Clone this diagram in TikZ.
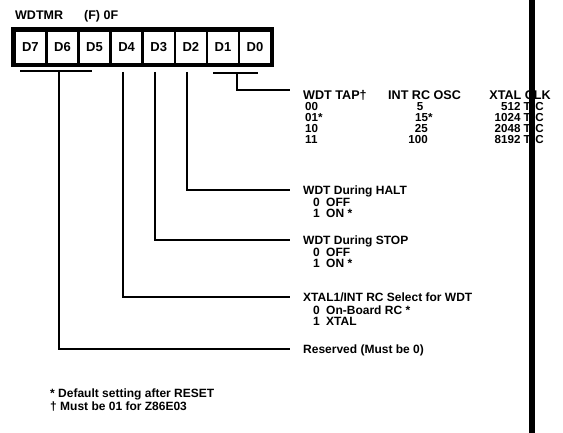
\documentclass[tikz,border=0pt]{standalone}
\usepackage{fontspec}
\setmainfont{Liberation Sans}
\newcommand{\tpc}{T{\fontsize{7.5}{8}\selectfont p}C}
\begin{document}
\begin{tikzpicture}[x=1pt,y=-1pt,
  lbl/.style={font=\fontsize{12}{14}\selectfont\bfseries, inner sep=0pt, anchor=base west},
  tbl/.style={font=\fontsize{12.6}{14}\selectfont\bfseries, inner sep=0pt},
  row/.style={font=\fontsize{11.6}{12}\selectfont\bfseries, inner sep=0pt},
  conn/.style={line width=1.8pt},
  cell/.style={draw, line width=2.6pt, minimum width=32.1pt, minimum height=34pt, inner sep=0pt, anchor=north west, font=\fontsize{13}{14}\selectfont\bfseries}]
\useasboundingbox (0,0) rectangle (563,433);
% title
\node[lbl, font=\fontsize{12.5}{14}\selectfont\bfseries] (title) at (15,20) {WDTMR};
\node[lbl, font=\fontsize{12.5}{14}\selectfont\bfseries] (title2) at (84,20) {(F) 0F};
% register cells
\foreach \i/\n in {0/7,1/6,2/5,3/4,4/3,5/2,6/1,7/0}{
  \node[cell] (d\n) at ({13+32.1*\i},29) {D\n};
}
\draw[line width=3.2pt] (d7.north west) rectangle (d0.south east);
% connector coordinates
\coordinate (b7a) at (20,71);
\coordinate (b7b) at (92,71);
\coordinate (s7) at (59,71);
\coordinate (e7) at (290,349);
\coordinate (s4) at (123,72);
\coordinate (e4) at (290,297);
\coordinate (s3) at (155,72);
\coordinate (e3) at (290,240);
\coordinate (s2) at (187,72);
\coordinate (e2) at (290,190);
\coordinate (b0a) at (213,73);
\coordinate (b0b) at (258,73);
\coordinate (s0) at (237,73);
\coordinate (e0) at (290,90);
\draw[conn] (b7a) -- (b7b);
\draw[conn] (s7) |- (e7);
\draw[conn] (s4) |- (e4);
\draw[conn] (s3) |- (e3);
\draw[conn] (s2) |- (e2);
\draw[conn] (b0a) -- (b0b);
\draw[conn] (s0) |- (e0);
% table
\node[tbl, anchor=base west] (tap) at (303,100) {WDT TAP\textdagger};
\node[tbl, anchor=base west] (osc) at (388,100) {INT RC OSC};
\node[tbl, anchor=base east] (clk) at (551,100) {XTAL CLK};
\node[row, anchor=base west] (r1a) at (305,111) {00};
\node[row, anchor=base west] (r2a) at (305,122) {01*};
\node[row, anchor=base west] (r3a) at (305,133) {10};
\node[row, anchor=base west] (r4a) at (305,144) {11};
\node[row, anchor=base] (r1b) at (420,111) {5};
\node[row, anchor=base west] (r2b) at (415,122) {15*};
\node[row, anchor=base east] (r3b) at (428,133) {25};
\node[row, anchor=base east] (r4b) at (428,144) {100};
\node[row, anchor=base east] (r1c) at (544,111) {512 \tpc};
\node[row, anchor=base east] (r2c) at (544,122) {1024 \tpc};
\node[row, anchor=base east] (r3c) at (544,133) {2048 \tpc};
\node[row, anchor=base east] (r4c) at (544,144) {8192 \tpc};
% HALT
\node[lbl] (halt) at (303,194.5) {WDT During HALT};
\node[lbl] (h0) at (313,206.5) {0};
\node[lbl] (h0t) at (326,206.5) {OFF};
\node[lbl] (h1) at (313,217.5) {1};
\node[lbl] (h1t) at (326,217.5) {ON *};
% STOP
\node[lbl] (stop) at (303,244) {WDT During STOP};
\node[lbl] (p0) at (313,256.5) {0};
\node[lbl] (p0t) at (326,256.5) {OFF};
\node[lbl] (p1) at (313,268) {1};
\node[lbl] (p1t) at (326,268) {ON *};
% XTAL select
\node[lbl] (xsel) at (303,301.5) {XTAL1/INT RC Select for WDT};
\node[lbl] (x0) at (313,314) {0};
\node[lbl] (x0t) at (326,314) {On-Board RC *};
\node[lbl] (x1) at (313,325.5) {1};
\node[lbl] (x1t) at (326,325.5) {XTAL};
% reserved
\node[lbl] (resv) at (303,353) {Reserved (Must be 0)};
% footnotes
\node[lbl] (fn1) at (50,397.5) {* Default setting after RESET};
\node[lbl] (fn2) at (50,410.5) {\textdagger{} Must be 01 for Z86E03};
% black bar
\fill[black] (529,0) rectangle (535,433);
\end{tikzpicture}
\end{document}
